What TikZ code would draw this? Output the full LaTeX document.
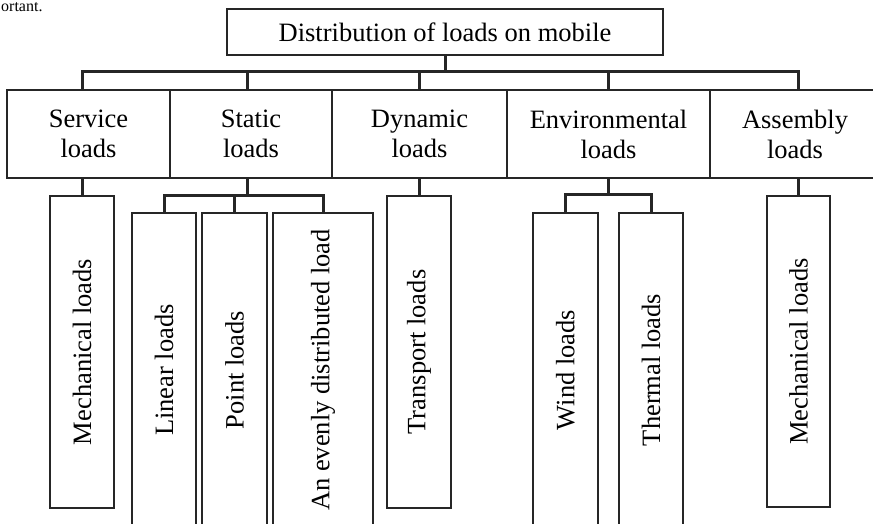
\documentclass[tikz,border=0pt]{standalone}
\usepackage{fontspec}
\setmainfont{Liberation Serif}
\usepackage{graphicx}
\tikzset{
  box/.style={draw=black!85, line width=2.4pt, inner sep=0pt, outer sep=0pt,
    font=\fontsize{26.5}{30}\selectfont, align=center},
  conn/.style={draw=black!85, line width=3pt},
}
\newcommand{\upright}[1]{\rotatebox{90}{#1}}

\begin{document}
\begin{tikzpicture}[x=1pt, y=-1pt]
    \useasboundingbox (0,0) rectangle (873,524);
    \node[anchor=base west, inner sep=0pt, font=\fontsize{16}{18}\selectfont] (cut) at (1,12) {ortant.};

    \node[box, minimum width=436pt, minimum height=46pt] (top) at (445,32) {Distribution of loads on mobile};

    \node[box, minimum width=163pt, minimum height=88pt] (serv) at (88.5,134) {Service\\loads};
    \node[box, minimum width=162pt, minimum height=88pt] (stat) at (251,134) {Static\\loads};
    \node[box, minimum width=175pt, minimum height=88pt] (dyn) at (419.5,134) {Dynamic\\loads};
    \node[box, minimum width=203pt, minimum height=88pt] (env) at (608.5,134) {Environmental\\loads};
    \node[box, minimum width=170pt, minimum height=88pt] (asm) at (795,134) {Assembly\\loads};

    \node[box, minimum width=64pt, minimum height=312pt] (mechA) at (82,352) {\upright{Mechanical loads}};
    \node[box, minimum width=64pt, minimum height=314pt] (lin) at (164,370) {\upright{Linear loads}};
    \node[box, minimum width=65pt, minimum height=314pt] (point) at (234.5,370) {\upright{Point loads}};
    \node[box, minimum width=100pt, minimum height=314pt] (even) at (323,370) {\upright{An evenly distributed load}};
    \node[box, minimum width=64pt, minimum height=312pt] (trans) at (419,352) {\upright{Transport loads}};
    \node[box, minimum width=65pt, minimum height=314pt] (wind) at (565.5,370) {\upright{Wind loads}};
    \node[box, minimum width=64pt, minimum height=314pt] (therm) at (651,370) {\upright{Thermal loads}};
    \node[box, minimum width=63pt, minimum height=311pt] (mechB) at (798.5,351.5) {\upright{Mechanical loads}};

    \coordinate (bar) at (445,72);
    \coordinate (stj) at (247,195);
    \coordinate (envj) at (608.5,194);

    \draw[conn] (top.south) -- (bar);
    \draw[conn] (mechA.north |- serv.north) |- (bar) -| (mechB.north |- asm.north);
    \foreach \n in {stj, trans, envj}
        \draw[conn] (\n |- bar) -- (\n |- serv.north);

    \draw[conn] (mechA.north |- serv.south) -- (mechA.north);
    \draw[conn] (trans.north |- dyn.south) -- (trans.north);
    \draw[conn] (mechB.north |- asm.south) -- (mechB.north);

    \draw[conn] (stj |- stat.south) -- (stj);
    \draw[conn] (lin.north) |- (stj) -| (even.north);
    \draw[conn] (point.north) -- (point.north |- stj);

    \draw[conn] (envj |- env.south) -- (envj);
    \draw[conn] (wind.north) |- (envj) -| (therm.north);
\end{tikzpicture}
\end{document}
